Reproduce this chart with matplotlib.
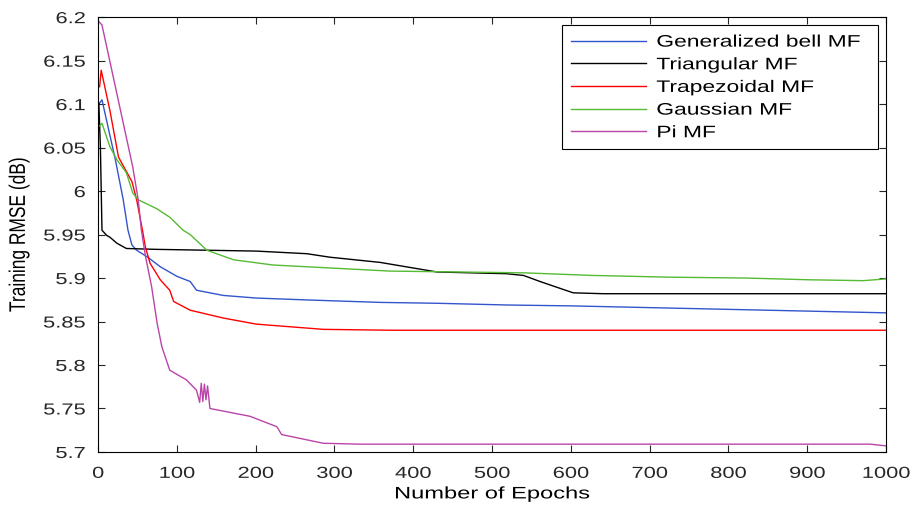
import matplotlib
matplotlib.use("Agg")
import matplotlib.pyplot as plt
from matplotlib.patheffects import AbstractPathEffect
from matplotlib.transforms import Affine2D

plt.rcParams['font.family'] = ['Liberation Sans', 'DejaVu Sans']

# ---- data ----
bell_x = [1, 5, 22, 32, 38, 43, 49, 63, 79, 100, 117, 125, 159, 201, 260, 358, 430, 520, 600, 700, 800, 900, 1000]
bell_y = [6.100, 6.105, 6.036, 5.990, 5.955, 5.938, 5.932, 5.924, 5.913, 5.902, 5.896, 5.886, 5.880, 5.877, 5.875, 5.872, 5.871, 5.869, 5.868, 5.866, 5.864, 5.862, 5.860]

tri_x = [1, 3, 5, 11, 15, 24, 28, 36, 74, 201, 265, 294, 358, 371, 430, 518, 540, 561, 603, 641, 700, 1000]
tri_y = [6.101, 6.050, 5.955, 5.949, 5.947, 5.940, 5.938, 5.934, 5.933, 5.931, 5.928, 5.924, 5.918, 5.916, 5.907, 5.905, 5.903, 5.896, 5.883, 5.882, 5.882, 5.882]

trap_x = [2, 4, 15, 26, 43, 49, 57, 60, 66, 79, 91, 96, 117, 159, 201, 286, 371, 500, 1000]
trap_y = [6.120, 6.139, 6.093, 6.039, 6.011, 5.990, 5.952, 5.936, 5.917, 5.898, 5.886, 5.873, 5.863, 5.854, 5.847, 5.841, 5.840, 5.840, 5.840]

gauss_x = [2, 5, 15, 24, 36, 44, 51, 74, 91, 108, 117, 138, 172, 222, 307, 371, 540, 628, 726, 823, 903, 971, 1000]
gauss_y = [6.075, 6.078, 6.051, 6.036, 6.021, 5.998, 5.990, 5.980, 5.970, 5.955, 5.950, 5.932, 5.921, 5.915, 5.911, 5.908, 5.906, 5.903, 5.901, 5.900, 5.898, 5.897, 5.899]

pi_x = [1, 5, 44, 51, 55, 60, 68, 75, 81, 91, 112, 125, 129, 131, 133, 135, 137, 139, 142, 193, 210, 227, 233, 286, 332, 500, 980, 1000]
pi_y = [6.195, 6.191, 6.028, 5.990, 5.955, 5.926, 5.890, 5.848, 5.821, 5.794, 5.783, 5.771, 5.757, 5.779, 5.758, 5.778, 5.760, 5.776, 5.750, 5.741, 5.735, 5.729, 5.720, 5.710, 5.709, 5.709, 5.709, 5.707]

labels = ['Generalized bell MF', 'Triangular MF', 'Trapezoidal MF', 'Gaussian MF', 'Pi MF']
colors = ['#3355cc', '#000000', '#ff0000', '#55bb33', '#bb44aa']

xticks = list(range(0, 1001, 100))
yticks = [5.7, 5.75, 5.8, 5.85, 5.9, 5.95, 6.0, 6.05, 6.1, 6.15, 6.2]
ytick_labels = ['5.7', '5.75', '5.8', '5.85', '5.9', '5.95', '6', '6.05', '6.1', '6.15', '6.2']


class Stretch(AbstractPathEffect):
    """Draw text glyphs stretched (the reference's text is horizontally wide)."""
    def __init__(self, sx=1.0, sy=1.0, align=0.0):
        super().__init__()
        self.sx, self.sy, self.align = sx, sy, align

    def draw_path(self, renderer, gc, tpath, affine, rgbFace=None):
        ext = tpath.get_extents()
        shift = -(self.sx - 1.0) * ext.x1 * self.align
        t = Affine2D().scale(self.sx, self.sy).translate(shift, 0) + affine
        renderer.draw_path(gc, tpath, t, rgbFace)


SX = 1.37
fig = plt.figure(figsize=(9.12, 5.05), dpi=100)
ax = fig.add_axes([0.1075, 0.105, 0.864, 0.861])

series = [(bell_x, bell_y), (tri_x, tri_y), (trap_x, trap_y), (gauss_x, gauss_y), (pi_x, pi_y)]
for (xs, ys), lab, c in zip(series, labels, colors):
    ax.plot(xs, ys, color=c, lw=1.0, label=lab)

ax.set_xlim(0, 1000)
ax.set_ylim(5.7, 6.2)
ax.set_xticks(xticks)
ax.set_yticks(yticks)
ax.set_yticklabels(ytick_labels)
ax.tick_params(direction='in', top=True, right=True, labelsize=11.5, length=5, width=0.8, colors='#262626')
ax.tick_params(axis='x', pad=10)
ax.tick_params(axis='y', pad=9)
for s in ax.spines.values():
    s.set_linewidth(0.8)

for t in ax.get_xticklabels():
    t.set_path_effects([Stretch(SX, 1.0, 0.5)])
for t in ax.get_yticklabels():
    t.set_path_effects([Stretch(SX, 1.0, 1.0)])

xl = ax.set_xlabel('Number of Epochs', fontsize=12, labelpad=4)
xl.set_path_effects([Stretch(1.42, 1.0, 0.5)])
yl = ax.set_ylabel('Training RMSE (dB)', fontsize=12.5, labelpad=19)
yl.set_path_effects([Stretch(1.0, 1.3, 0.0)])

leg = ax.legend(loc='upper left', fontsize=12, frameon=True, fancybox=False,
                edgecolor='black', framealpha=1, handlelength=4.5, borderpad=0.55,
                labelspacing=0.46, handletextpad=0.6, mode='expand', borderaxespad=0,
                bbox_to_anchor=(0.589, 0.694, 0.401, 0.287))
leg.get_frame().set_linewidth(0.8)
for t in leg.get_texts():
    t.set_path_effects([Stretch(SX, 1.0, 0.0)])

fig.savefig('out.png', dpi=100)
